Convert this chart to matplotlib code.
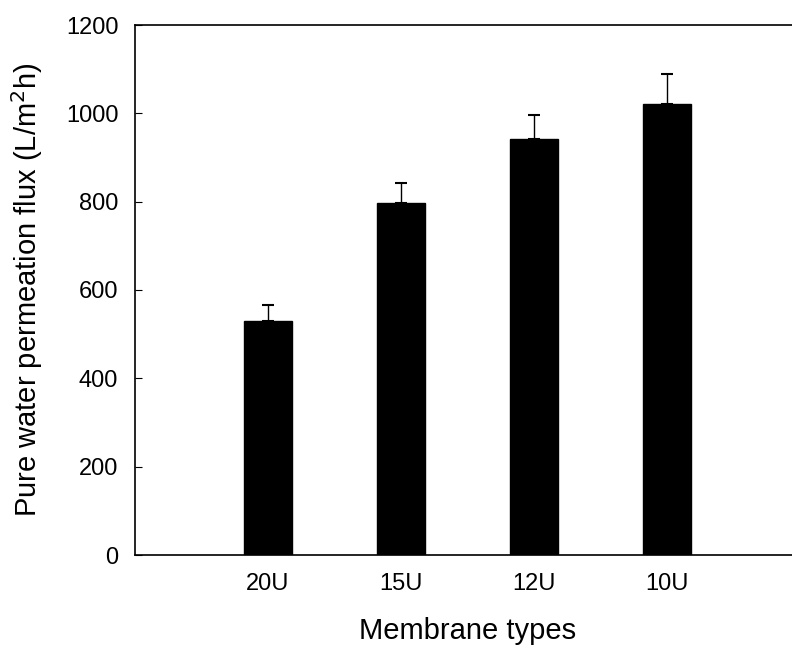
import matplotlib
matplotlib.use("Agg")
import matplotlib.pyplot as plt

categories = ["20U", "15U", "12U", "10U"]
flux = [530, 797, 942, 1020]
flux_err = [36, 45, 55, 68]
yticks = [0, 200, 400, 600, 800, 1000, 1200]

plt.rcParams['font.family'] = ['Liberation Sans', 'DejaVu Sans']

fig = plt.figure(figsize=(7.92, 6.5), dpi=100)
ax = fig.add_axes([135/792, 95/650, 665/792, 530/650])

x = list(range(1, len(categories) + 1))
ax.bar(x, flux, width=0.36, color='black', edgecolor='black', zorder=2)
ax.errorbar(x, flux, yerr=[[0]*len(flux), flux_err], fmt='none', ecolor='black',
            elinewidth=1.0, capsize=4.5, capthick=1.5, zorder=1)

ax.set_xlim(0, 5)
ax.set_ylim(0, 1200)
ax.set_xticks(x)
ax.set_xticklabels(categories)
ax.set_yticks(yticks)
ax.tick_params(axis='x', length=0, pad=13, labelsize=17)
ax.tick_params(axis='y', direction='in', length=5, pad=12, labelsize=17)
ax.spines['right'].set_visible(False)
for s in ['left', 'top', 'bottom']:
    ax.spines[s].set_linewidth(1.2)
ax.set_xlabel("Membrane types", fontsize=21, labelpad=16)
ax.set_ylabel("Pure water permeation flux (L/m$^2$h)", fontsize=21, labelpad=15)

fig.savefig("out.png", dpi=100)
